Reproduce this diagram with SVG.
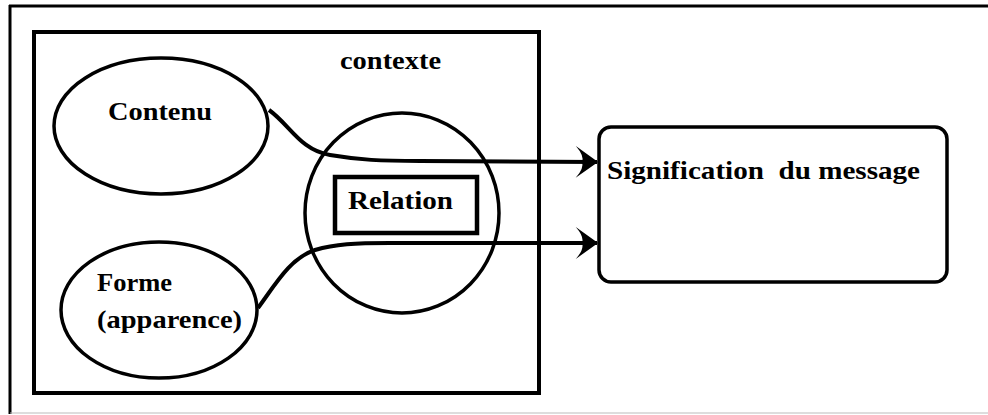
<svg xmlns="http://www.w3.org/2000/svg" width="988" height="415" viewBox="0 0 988 415">
<style>
.t{font-family:"Liberation Serif","Times New Roman",serif;font-weight:bold;font-size:25px;fill:#000}
.s{fill:none;stroke:#000}
</style>
<defs>
<marker id="ah" markerUnits="userSpaceOnUse" markerWidth="30" markerHeight="34" viewBox="-24 -16 26 32" refX="0" refY="0" orient="auto">
<path d="M1,0 L-20,-15 Q-12,-6 -14,0 Q-12,6 -20,15 Z" fill="#000"/>
</marker>
</defs>
<rect width="988" height="415" fill="#fff"/>
<g id="frame">
<line x1="10" y1="5" x2="10" y2="414" stroke="#000" stroke-width="3"/>
<line x1="9" y1="6" x2="988" y2="6" stroke="#000" stroke-width="3"/>
<line x1="10" y1="413" x2="988" y2="413" stroke="#bbb" stroke-width="1"/>
</g>
<g id="contexte">
<rect class="s" x="34" y="32" width="505" height="361" stroke-width="4"/>
<text class="t" x="340" y="69" textLength="101" lengthAdjust="spacingAndGlyphs">contexte</text>
</g>
<g id="contenu">
<ellipse class="s" cx="161" cy="126" rx="107" ry="68" stroke-width="3.5"/>
<text class="t" x="108" y="120" textLength="104" lengthAdjust="spacingAndGlyphs">Contenu</text>
</g>
<g id="forme">
<ellipse class="s" cx="159" cy="310" rx="98" ry="68" stroke-width="3.5"/>
<text class="t" x="97" y="291" textLength="75" lengthAdjust="spacingAndGlyphs">Forme</text>
<text class="t" x="97" y="328" textLength="145" lengthAdjust="spacingAndGlyphs">(apparence)</text>
</g>
<g id="relation">
<ellipse class="s" cx="402" cy="213" rx="97" ry="100" stroke-width="3.5"/>
<rect class="s" x="335" y="177" width="142" height="56" stroke-width="4.5"/>
<text class="t" x="348" y="209" textLength="105" lengthAdjust="spacingAndGlyphs">Relation</text>
</g>
<g id="signification">
<rect class="s" x="599" y="127" width="348" height="155" rx="12" stroke-width="3.5"/>
<text class="t" x="607" y="179" textLength="313" lengthAdjust="spacingAndGlyphs" xml:space="preserve">Signification  du message</text>
</g>
<g id="connectors">
<path class="s" stroke-width="4" d="M269,110 C290,125 300,150 330,155 C360,160 380,161 420,161 L597,162" marker-end="url(#ah)"/>
<path class="s" stroke-width="4" d="M258,308 C275,285 290,258 315,250 C335,244 355,243 390,243 L597,243" marker-end="url(#ah)"/>
</g>
</svg>
